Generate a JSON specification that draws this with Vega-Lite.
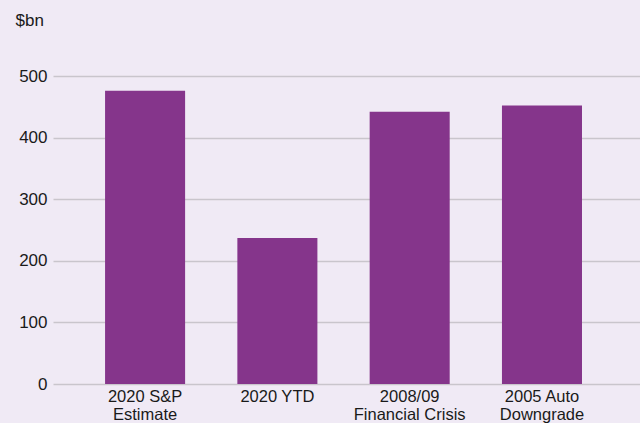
{
  "$schema": "https://vega.github.io/schema/vega-lite/v6.json",
  "autosize": "none",
  "width": 587,
  "height": 308,
  "padding": {"left": 53, "top": 76, "right": 0, "bottom": 39},
  "background": "#f0eaf5",
  "config": {
    "view": {"stroke": null},
    "font": "Liberation Sans"
  },
  "data": {
    "values": [
      {"category": "2020 S&P|Estimate", "value": 476},
      {"category": "2020 YTD", "value": 237},
      {"category": "2008/09|Financial Crisis", "value": 442},
      {"category": "2005 Auto|Downgrade", "value": 452}
    ]
  },
  "mark": {"type": "bar", "color": "#85358b"},
  "encoding": {
    "x": {
      "field": "category",
      "type": "nominal",
      "sort": null,
      "scale": {"paddingInner": 0.395, "paddingOuter": 0.416, "align": 0.473},
      "axis": {
        "title": null,
        "labelAngle": 0,
        "labelExpr": "split(datum.label, '|')",
        "labelFontSize": 16.5,
        "labelColor": "#1a1a1a",
        "labelLineHeight": 18,
        "labelPadding": 4,
        "labelBaseline": "top",
        "ticks": false,
        "domain": false
      }
    },
    "y": {
      "field": "value",
      "type": "quantitative",
      "scale": {"domain": [0, 500]},
      "axis": {
        "values": [0, 100, 200, 300, 400, 500],
        "title": "$bn",
        "titleAngle": 0,
        "titleAlign": "left",
        "titleBaseline": "middle",
        "titleX": -38,
        "titleY": -56,
        "titleFontSize": 17,
        "titleFontWeight": "normal",
        "titleColor": "#1a1a1a",
        "labelFontSize": 17,
        "labelColor": "#1a1a1a",
        "labelPadding": 6,
        "ticks": false,
        "domain": false,
        "gridColor": "#c9c5cc",
        "gridWidth": 1.5
      }
    }
  }
}
